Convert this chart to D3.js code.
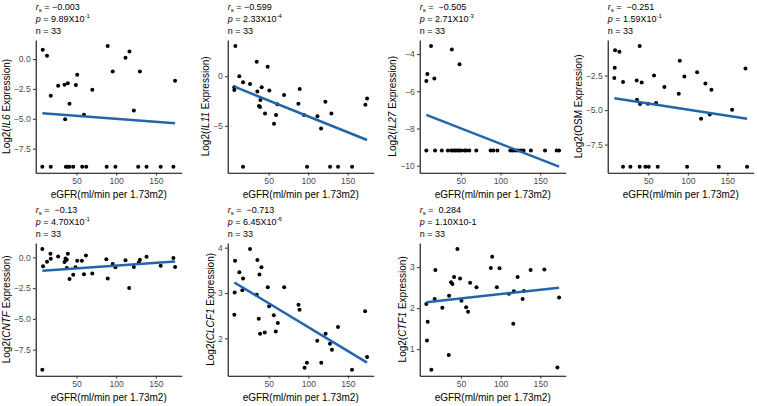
<!DOCTYPE html>
<html>
<head>
<meta charset="utf-8">
<script src="https://cdn.jsdelivr.net/npm/d3@7"></script>
<style>
  body { margin: 0; background: #fff; }
  svg { display: block; }
  text { font-family: "Liberation Sans", Arial, sans-serif; white-space: pre; }
</style>
</head>
<body>
<script>
// ---- data ----
const xTicks = [50, 100, 150];
const xTitle = "eGFR(ml/min per 1.73m2)";

const genes = ["IL6", "IL11", "IL27", "OSM", "CNTF", "CLCF1", "CTF1"];
const geneItalic = [true, true, true, false, true, true, true];

const rsValues = ["= \u22120.003", "= \u22120.599", "=  \u22120.505", "=  \u22120.251", "=  \u22120.13", "=  \u22120.713", "=  0.284"];
const pMantissa = ["9.89", "2.33", "2.71", "1.59", "4.70", "6.45", "1.10"];
const pExponent = ["-1", "-4", "-3", "-1", "-1", "-6", "-1"];
const pSuper = [true, true, true, true, true, true, false];
const nValues = [33, 33, 33, 33, 33, 33, 33];

const yTickLabels = [
  ["0.0", "\u22122.5", "\u22125.0", "\u22127.5"],
  ["0", "\u22125"],
  ["\u22124", "\u22126", "\u22128", "\u221210"],
  ["\u22122.5", "\u22125.0", "\u22127.5"],
  ["0.0", "\u22122.5", "\u22125.0", "\u22127.5"],
  ["4", "3", "2"],
  ["3", "2", "1"]
];

// [eGFR, log2 expression]
const il6 = [
  [7.5, 0.78], [12.9, 0.28], [17.6, -3.08], [26.9, -2.24], [34.9, -2.16], [39.1, -2.02],
  [35.7, -5.04], [41.2, -3.75], [49.2, -2.18], [50.9, -1.32], [59.4, -4.67], [69.9, -2.57],
  [89.3, 1.09], [95.6, -1.04], [111.7, 0.11], [116.7, 0.64], [122.2, -4.31], [129.8, -1.04],
  [174.1, -1.82],
  [7.0, -9.01], [17.6, -9.01], [36.6, -9.01], [39.1, -9.01], [41.2, -9.01], [45.9, -9.01],
  [57.2, -9.01], [62.3, -9.01], [88.0, -9.01], [99.0, -9.01], [127.7, -9.01], [138.2, -9.01],
  [156.0, -9.01], [172.0, -9.01]
];

const il11 = [
  [7.9, 3.04], [6.6, -1.11], [6.6, -1.39], [12.9, 0.0], [17.6, -0.61], [26.4, -0.78],
  [34.9, 1.45], [35.7, -1.55], [39.5, -2.4], [37.8, -3.0], [39.1, -3.1], [41.2, -1.11],
  [45.4, -3.75], [48.8, 0.95], [50.9, -1.45], [56.8, -4.8], [59.4, -3.92], [61.0, -2.84],
  [69.5, -1.89], [87.6, -2.77], [89.3, -1.28], [94.8, -3.92], [111.7, -4.05], [116.3, -5.27],
  [121.8, -2.57], [129.4, -3.75], [172.4, -2.87], [174.5, -2.26],
  [17.6, -9.12], [98.6, -9.12], [127.7, -9.12], [137.8, -9.12], [155.5, -9.12]
];

const il27 = [
  [6.6, -5.45], [7.9, -5.07], [12.5, -3.57], [16.7, -5.32], [38.7, -3.75], [48.4, -4.55],
  [6.6, -9.18], [17.6, -9.18], [26.1, -9.18], [33.7, -9.18], [37.9, -9.18], [40.4, -9.18],
  [43.0, -9.18], [45.5, -9.18], [48.0, -9.18], [50.6, -9.18], [54.8, -9.18], [57.3, -9.18],
  [60.7, -9.18], [69.5, -9.18], [87.6, -9.18], [91.0, -9.18], [96.1, -9.18], [112.5, -9.18],
  [115.5, -9.18], [118.9, -9.18], [122.3, -9.18], [125.7, -9.18], [129.1, -9.18], [138.3, -9.18],
  [156.1, -9.18], [170.8, -9.18], [173.8, -9.18]
];

const osm = [
  [7.9, -0.66], [13.4, -0.78], [7.5, -1.94], [7.0, -2.67], [18.0, -2.96], [35.3, -2.86],
  [39.1, -0.36], [41.6, -3.01], [35.7, -4.25], [39.5, -4.56], [49.6, -4.54], [57.2, -2.5],
  [59.8, -4.49], [70.3, -3.33], [88.5, -3.81], [89.8, -1.43], [95.6, -2.57], [111.7, -2.26],
  [116.7, -5.63], [122.2, -3.08], [129.8, -3.52], [127.7, -5.32], [156.0, -4.98], [172.9, -1.99],
  [18.0, -9.1], [27.3, -9.1], [39.1, -9.1], [46.3, -9.1], [50.5, -9.1], [61.9, -9.1],
  [99.0, -9.1], [139.1, -9.1], [174.9, -9.1]
];

const cntf = [
  [7.0, 0.68], [7.9, -0.73], [12.9, -0.35], [17.2, 0.3], [17.6, -0.11], [26.9, 0.08],
  [34.9, -0.38], [36.2, -0.08], [37.8, -0.19], [39.1, 0.3], [37.8, -0.87], [41.2, -1.76],
  [45.9, -1.41], [50.9, -0.27], [48.8, -0.81], [56.8, -0.27], [59.4, -1.38], [61.9, 0.16],
  [69.9, -1.3], [87.6, -0.16], [89.3, -1.71], [95.6, -0.54], [99.0, -0.81], [111.7, -0.24],
  [116.3, -2.49], [122.2, -0.79], [128.5, -0.41], [129.8, -0.19], [138.2, 0.05], [156.0, -0.68],
  [172.0, -0.05], [174.1, -0.79], [7.0, -9.13]
];

const clcf1 = [
  [7.5, 3.71], [7.0, 3.01], [6.6, 2.52], [12.9, 3.46], [17.6, 3.32], [16.7, 3.06],
  [26.4, 3.97], [35.7, 3.73], [34.9, 2.96], [38.3, 3.41], [40.8, 3.57], [37.4, 2.43],
  [39.1, 2.10], [45.0, 2.13], [48.8, 3.13], [50.5, 2.71], [56.4, 2.51], [58.9, 2.15],
  [61.5, 2.34], [69.5, 3.13], [87.6, 2.74], [88.9, 2.63], [95.2, 1.35], [98.2, 1.46],
  [111.2, 1.95], [116.3, 1.46], [121.8, 2.10], [127.3, 1.88], [129.8, 1.75], [137.4, 2.25],
  [155.1, 1.31], [171.6, 2.60], [174.1, 1.59]
];

const ctf1 = [
  [6.2, 2.10], [7.9, 1.67], [7.0, 1.21], [12.5, 0.50], [16.7, 2.22], [17.6, 2.93],
  [26.4, 2.01], [34.9, 2.30], [34.5, 0.86], [37.4, 2.63], [39.1, 2.59], [41.2, 2.76],
  [45.4, 3.44], [48.8, 2.72], [50.5, 2.18], [56.4, 2.02], [58.9, 1.91], [61.5, 2.62],
  [69.5, 2.51], [87.6, 2.98], [89.3, 3.25], [95.2, 2.51], [98.6, 2.97], [110.4, 2.35],
  [115.9, 1.62], [116.7, 2.41], [121.4, 2.76], [127.7, 2.22], [129.4, 2.42], [137.8, 2.93],
  [155.1, 2.94], [171.6, 0.55], [173.7, 2.26]
];

const series = [il6, il11, il27, osm, cntf, clcf1, ctf1];

// ---- layout ----
const W = 757, H = 406;
const colLeft = [35.7, 227.7, 419.7, 607.7];
const rowTop = [40, 243];
const plotW = 146, plotH = 132.7;
const tickLen = 2.75, tickPad = 2.2;
const tickFont = 8.6, titleFont = 10, noteFont = 9;
const lineColor = "#2166AC";

const svg = d3.select("body").append("svg")
  .attr("width", W)
  .attr("height", H)
  .attr("viewBox", `0 0 ${W} ${H}`);

svg.append("rect").attr("width", W).attr("height", H).attr("fill", "#fff");

// least squares line, like geom_smooth(method = "lm")
function lmFit(pts) {
  const mx = d3.mean(pts, d => d[0]);
  const my = d3.mean(pts, d => d[1]);
  let sxy = 0, sxx = 0;
  for (const [x, y] of pts) {
    sxy += (x - mx) * (y - my);
    sxx += (x - mx) * (x - mx);
  }
  const b = sxy / sxx;
  return x => my + b * (x - mx);
}

function expand(ext) {
  const r = ext[1] - ext[0];
  return [ext[0] - 0.05 * r, ext[1] + 0.05 * r];
}

series.forEach((pts, i) => {
  const left = colLeft[i % 4];
  const top = rowTop[Math.floor(i / 4)];
  const bottom = top + plotH;
  const g = svg.append("g");

  const fit = lmFit(pts);
  const xExt = d3.extent(pts, d => d[0]);
  const yExt = d3.extent(pts.map(d => d[1]).concat([fit(xExt[0]), fit(xExt[1])]));

  const x = d3.scaleLinear().domain(expand(xExt)).range([left, left + plotW]);
  const y = d3.scaleLinear().domain(expand(yExt)).range([bottom, top]);

  // points
  g.append("g").selectAll("circle")
    .data(pts)
    .join("circle")
    .attr("cx", d => x(d[0]))
    .attr("cy", d => y(d[1]))
    .attr("r", 2)
    .attr("fill", "#000");

  // fitted line
  g.append("line")
    .attr("x1", x(xExt[0])).attr("y1", y(fit(xExt[0])))
    .attr("x2", x(xExt[1])).attr("y2", y(fit(xExt[1])))
    .attr("stroke", lineColor)
    .attr("stroke-width", 2.5);

  // axes
  const yVals = yTickLabels[i].map(s => +s.replace("\u2212", "-"));
  const xAxis = g.append("g")
    .attr("transform", `translate(0,${bottom})`)
    .call(d3.axisBottom(x).tickValues(xTicks).tickSize(tickLen).tickSizeOuter(0).tickPadding(tickPad));
  const yAxis = g.append("g")
    .attr("transform", `translate(${left},0)`)
    .call(d3.axisLeft(y).tickValues(yVals).tickFormat((d, k) => yTickLabels[i][k])
      .tickSize(tickLen).tickSizeOuter(0).tickPadding(tickPad));

  [xAxis, yAxis].forEach(a => {
    a.select(".domain").attr("stroke", "#000").attr("stroke-width", 1.07);
    a.selectAll(".tick line").attr("stroke", "#333").attr("stroke-width", 1.07);
    a.selectAll(".tick text")
      .attr("fill", "#4D4D4D")
      .attr("font-size", tickFont)
      .attr("font-family", "Liberation Sans, Arial, sans-serif");
  });

  // x title
  g.append("text")
    .attr("x", left + plotW / 2)
    .attr("y", bottom + 25)
    .attr("text-anchor", "middle")
    .attr("font-size", titleFont)
    .attr("fill", "#000")
    .text(xTitle);

  // y title, placed after the widest tick label
  let maxW = 0;
  yAxis.selectAll(".tick text").each(function () {
    maxW = Math.max(maxW, this.getComputedTextLength());
  });
  const ty = left - tickLen - tickPad - maxW - 2.75 - titleFont * 0.5;
  const yt = g.append("text")
    .attr("transform", `translate(${ty},${top + plotH / 2}) rotate(-90)`)
    .attr("dy", "0.35em")
    .attr("text-anchor", "middle")
    .attr("font-size", titleFont)
    .attr("fill", "#000");
  yt.append("tspan").text("Log2(");
  yt.append("tspan").attr("font-style", geneItalic[i] ? "italic" : "normal").text(genes[i]);
  yt.append("tspan").text(" Expression)");

  // stats note above the panel
  const l1 = g.append("text").attr("x", left).attr("y", top - 30.5)
    .attr("font-size", noteFont).attr("fill", "#000");
  l1.append("tspan").attr("font-style", "italic").text("r");
  l1.append("tspan").attr("font-size", 6).attr("dy", 2).text("s");
  l1.append("tspan").attr("dy", -2).text(" " + rsValues[i]);

  const l2 = g.append("text").attr("x", left).attr("y", top - 18.5)
    .attr("font-size", noteFont).attr("fill", "#000");
  l2.append("tspan").attr("font-style", "italic").text("p");
  l2.append("tspan").text(" = " + pMantissa[i] + "X10");
  if (pSuper[i]) {
    l2.append("tspan").attr("font-size", 6).attr("dy", -3.5).text(pExponent[i]);
  } else {
    l2.append("tspan").text(pExponent[i]);
  }

  g.append("text").attr("x", left).attr("y", top - 6.5)
    .attr("font-size", noteFont).attr("fill", "#000")
    .text("n = " + nValues[i]);
});
</script>
</body>
</html>
